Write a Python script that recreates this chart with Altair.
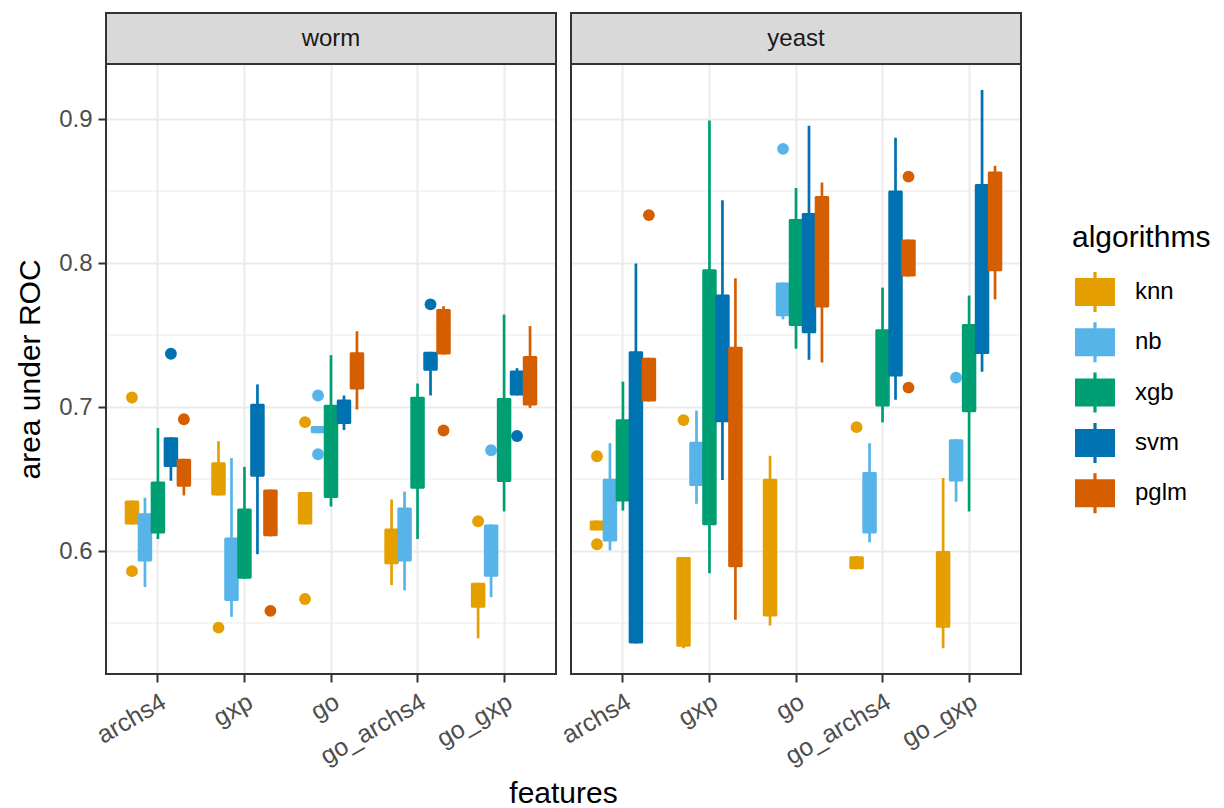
import altair as alt
import pandas as pd

organisms = ["worm", "yeast"]
features = ["archs4", "gxp", "go", "go_archs4", "go_gxp"]
algorithms = ["knn", "nb", "xgb", "svm", "pglm"]
colors = ["#E69F00", "#56B4E9", "#009E73", "#0072B2", "#D55E00"]

# order: feature-major, algorithm-minor (knn, nb, xgb, svm, pglm)
worm_lower = [0.6185, 0.575, 0.6083, 0.6488, 0.6386,
              0.6386, 0.5543, 0.5807, 0.5978, 0.6102,
              0.6185, 0.6818, 0.6309, 0.684, 0.6983,
              0.5763, 0.5727, 0.6083, 0.708, 0.7364,
              0.5394, 0.568, 0.6275, 0.708, 0.6994]
worm_q1 = [0.6185, 0.5928, 0.6121, 0.6584, 0.6446,
           0.6386, 0.5653, 0.5807, 0.6515, 0.6102,
           0.6185, 0.6818, 0.6369, 0.6882, 0.7121,
           0.5909, 0.5928, 0.6433, 0.7251, 0.7364,
           0.5606, 0.5821, 0.6479, 0.708, 0.7011]
worm_q3 = [0.635, 0.6262, 0.6482, 0.679, 0.664,
           0.6617, 0.6094, 0.6295, 0.7022, 0.6427,
           0.641, 0.6868, 0.7016, 0.7052, 0.738,
           0.6157, 0.6303, 0.7072, 0.7383, 0.768,
           0.578, 0.6185, 0.7063, 0.7253, 0.7355]
worm_upper = [0.635, 0.637, 0.6854, 0.679, 0.664,
              0.6763, 0.6645, 0.6584, 0.7157, 0.6427,
              0.641, 0.6868, 0.736, 0.708, 0.7526,
              0.6358, 0.6413, 0.7163, 0.7383, 0.77,
              0.578, 0.6185, 0.7642, 0.727, 0.7562]

yeast_lower = [0.6143, 0.6005, 0.6281, 0.5358, 0.7039,
               0.5325, 0.6328, 0.5846, 0.6493, 0.5523,
               0.5482, 0.7609, 0.7405, 0.7328, 0.7309,
               0.5873, 0.6061, 0.6893, 0.705, 0.7906,
               0.5325, 0.6342, 0.6275, 0.7245, 0.7747]
yeast_q1 = [0.6143, 0.6066, 0.6344, 0.5358, 0.7039,
            0.5336, 0.6452, 0.6179, 0.6895, 0.5887,
            0.5545, 0.7631, 0.7562, 0.7512, 0.7691,
            0.5873, 0.6121, 0.7003, 0.7212, 0.7906,
            0.5468, 0.6482, 0.6964, 0.7369, 0.7942]
yeast_q3 = [0.6212, 0.6501, 0.6915, 0.7388, 0.7342,
            0.5959, 0.6758, 0.7956, 0.7782, 0.7419,
            0.6501, 0.7865, 0.8306, 0.8347, 0.8466,
            0.5964, 0.6548, 0.754, 0.8504, 0.8163,
            0.6, 0.6777, 0.7576, 0.8548, 0.8636]
yeast_upper = [0.6212, 0.6749, 0.7176, 0.7997, 0.7342,
               0.5959, 0.6975, 0.899, 0.8435, 0.7895,
               0.6661, 0.7865, 0.8521, 0.8953, 0.8559,
               0.5964, 0.6749, 0.7829, 0.887, 0.8163,
               0.6507, 0.6777, 0.7774, 0.9201, 0.8675]

out_organism = ["worm", "worm", "worm", "worm", "worm", "worm", "worm", "worm", "worm",
                "worm", "worm", "worm", "worm", "worm", "worm",
                "yeast", "yeast", "yeast", "yeast", "yeast", "yeast", "yeast",
                "yeast", "yeast"]
out_feature = ["archs4", "archs4", "archs4", "archs4", "gxp", "gxp", "go", "go", "go",
               "go", "go_archs4", "go_archs4", "go_gxp", "go_gxp", "go_gxp",
               "archs4", "archs4", "archs4", "gxp", "go", "go_archs4", "go_archs4",
               "go_archs4", "go_gxp"]
out_algorithm = ["knn", "knn", "svm", "pglm", "knn", "pglm", "knn", "knn", "nb",
                 "nb", "svm", "pglm", "knn", "nb", "svm",
                 "knn", "knn", "pglm", "knn", "nb", "knn", "pglm",
                 "pglm", "nb"]
out_value = [0.7066, 0.586, 0.737, 0.6915, 0.5468, 0.5584, 0.6895, 0.5667, 0.708,
             0.6672, 0.7713, 0.6837, 0.6207, 0.67, 0.6799,
             0.6658, 0.6047, 0.8333, 0.6909, 0.8793, 0.686, 0.86,
             0.7135, 0.7204]

y_ticks = [0.6, 0.7, 0.8, 0.9]
y_minor = [0.55, 0.65, 0.75, 0.85]
y_domain = [0.5146, 0.9382]

rows = []
for org, lo, q1, q3, hi in [("worm", worm_lower, worm_q1, worm_q3, worm_upper),
                            ("yeast", yeast_lower, yeast_q1, yeast_q3, yeast_upper)]:
    i = 0
    for f in features:
        for a in algorithms:
            rows.append(dict(organism=org, feature=f, algorithm=a,
                             lo=lo[i], q1=q1[i], q3=q3[i], hi=hi[i]))
            i += 1
boxes = pd.DataFrame(rows)
outliers = pd.DataFrame(dict(organism=out_organism, feature=out_feature,
                             algorithm=out_algorithm, value=out_value))

PW, PH = 450, 610
FONT = "Liberation Sans"

legend_shape = ("M-1,-0.7H1V0.7H-1Z M-0.08,-1H0.08V-0.7H-0.08Z "
                "M-0.08,0.7H0.08V1H-0.08Z")

color_scale = alt.Scale(domain=algorithms, range=colors)
color_enc = alt.Color(
    "algorithm:N", scale=color_scale, sort=algorithms,
    legend=alt.Legend(
        title="algorithms", orient="none", legendX=966, legendY=159,
        symbolType=legend_shape, symbolSize=1600, symbolStrokeWidth=0,
        symbolOffset=3,
        labelFontSize=24, labelFont=FONT, labelColor="#000000",
        titleFontSize=30, titleFont=FONT, titleColor="#000000",
        titleFontWeight="normal", labelOffset=20, rowPadding=10.3,
        titlePadding=19,
    ),
)


def make_panel(org, first):
    x_axis = alt.Axis(
        labelAngle=-30, labelAlign="right", labelBaseline="top",
        labelFontSize=25, labelFont=FONT, labelColor="#4D4D4D",
        tickSize=8, tickWidth=2, tickColor="#333333", labelPadding=7,
        domain=False, grid=True, gridColor="#EBEBEB", gridWidth=2,
        title="features" if first else None,
        titleFontSize=30, titleFont=FONT, titleColor="#000000",
        titleFontWeight="normal",
        **({"titleX": 457, "titleY": 128, "titleBaseline": "alphabetic",
            "titleAlign": "center"} if first else {}),
    )
    if first:
        y_axis = alt.Axis(
            values=y_ticks, format=".1f", labelFontSize=24, labelFont=FONT,
            labelColor="#4D4D4D", tickSize=8, tickWidth=2, tickColor="#333333",
            labelPadding=6, domain=False, grid=True, gridColor="#EBEBEB",
            gridWidth=2, title="area under ROC", titleFontSize=30,
            titleFont=FONT, titleColor="#000000", titleFontWeight="normal",
            titlePadding=13,
        )
    else:
        y_axis = alt.Axis(
            values=y_ticks, labels=False, ticks=False, domain=False,
            grid=True, gridColor="#EBEBEB", gridWidth=2, title=None,
        )

    x_enc = alt.X("feature:N", sort=features,
                  scale=alt.Scale(domain=features, paddingInner=0.25,
                                  paddingOuter=0.225),
                  axis=x_axis)
    xo_enc = alt.XOffset("algorithm:N", sort=algorithms,
                         scale=alt.Scale(domain=algorithms, paddingInner=0,
                                         paddingOuter=0))
    y_scale = alt.Scale(domain=y_domain, nice=False, zero=False)

    bdata = boxes[boxes.organism == org]
    odata = outliers[outliers.organism == org]

    minor = alt.Chart(pd.DataFrame({"v": y_minor})).mark_rule(
        color="#EBEBEB", strokeWidth=1
    ).encode(
        y=alt.Y("v:Q", scale=y_scale, axis=y_axis),
        x=alt.value(0), x2=alt.value(PW),
    )

    whiskers = alt.Chart(bdata).mark_rule(strokeWidth=2.7).encode(
        x=x_enc, xOffset=xo_enc,
        y=alt.Y("lo:Q", scale=y_scale, axis=y_axis), y2="hi:Q",
        color=color_enc,
    )
    bars = alt.Chart(bdata).mark_bar(width=14.5, cornerRadius=1.5).encode(
        x=x_enc, xOffset=xo_enc,
        y=alt.Y("q1:Q", scale=y_scale, axis=y_axis), y2="q3:Q",
        color=color_enc,
    )
    points = alt.Chart(odata).mark_circle(size=140, opacity=1).encode(
        x=x_enc, xOffset=xo_enc,
        y=alt.Y("value:Q", scale=y_scale, axis=y_axis),
        color=color_enc,
    )

    strip_df = pd.DataFrame({"organism": [org]})
    border = alt.Chart(strip_df).mark_rect(
        fill="#FFFFFF", fillOpacity=0, stroke="#333333", strokeWidth=2
    ).encode(
        x=alt.value(0), x2=alt.value(PW), y=alt.value(0), y2=alt.value(PH)
    )
    strip = alt.Chart(strip_df).mark_rect(
        fill="#D9D9D9", stroke="#333333", strokeWidth=2
    ).encode(
        x=alt.value(0), x2=alt.value(PW), y=alt.value(-51), y2=alt.value(0)
    )
    strip_text = alt.Chart(strip_df).mark_text(
        fontSize=24, font=FONT, color="#1A1A1A", baseline="middle",
        align="center"
    ).encode(
        text="organism:N", x=alt.value(PW / 2), y=alt.value(-25)
    )

    return alt.layer(minor, whiskers, bars, points, border, strip,
                     strip_text).properties(width=PW, height=PH)


chart = alt.hconcat(
    make_panel("worm", True), make_panel("yeast", False), spacing=15,
    bounds="flush",
).properties(
    padding={"left": 7, "top": 3, "right": 5, "bottom": 12}
).configure_view(
    stroke=None
).configure(
    font=FONT
)

chart.save("out.html", embed_options={"renderer": "svg", "actions": False})
